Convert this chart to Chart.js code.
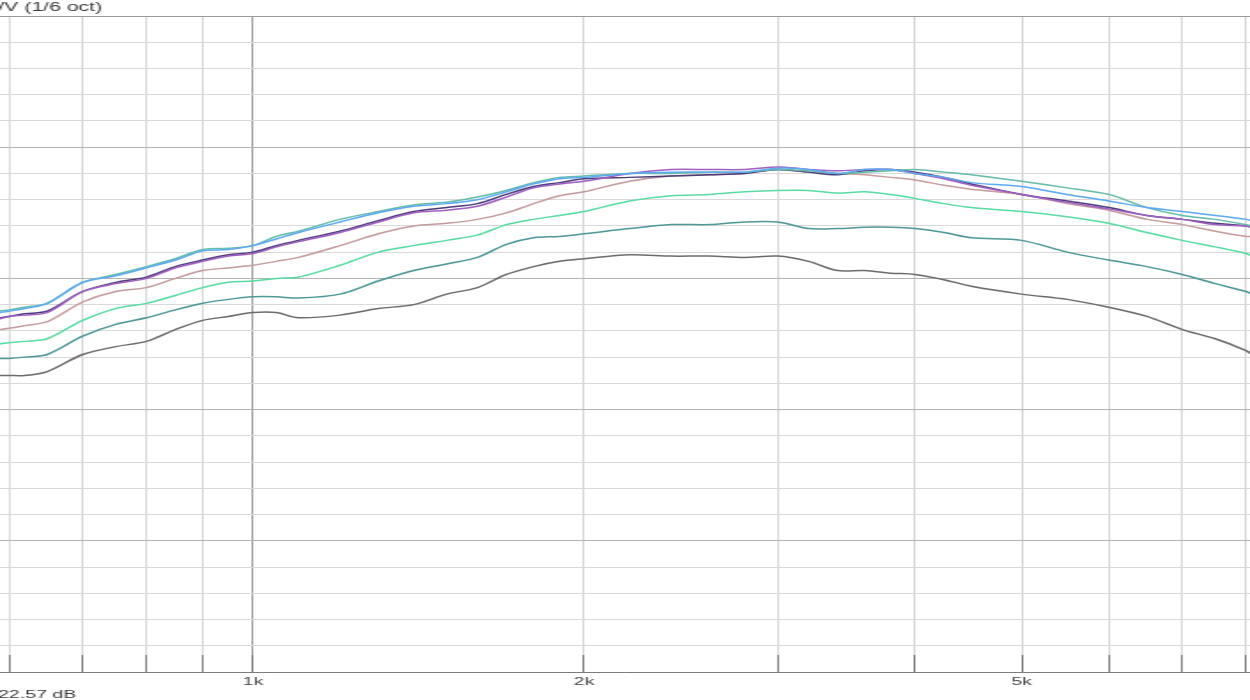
<!DOCTYPE html>
<html>
<head>
<meta charset="utf-8">
<script src="https://cdn.jsdelivr.net/npm/chart.js@4/dist/chart.umd.min.js"></script>
<style>
  html, body { margin: 0; padding: 0; background: #fff; overflow: hidden; }
  /* the source picture is a horizontally stretched screenshot, so the canvas is too */
  #wrap { width: 706px; height: 700px; transform: scaleX(1.7705); transform-origin: 0 0; }
</style>
</head>
<body>
<div id="wrap"><canvas id="fr" width="706" height="700"></canvas></div>
<script>
// frequency points (Hz) shared by every trace
const freqs = [588, 600, 620, 650, 700, 750, 800, 850, 900, 950, 1000, 1050, 1100, 1200, 1300, 1400, 1500, 1600, 1700, 1800, 1900,
  2000, 2200, 2400, 2600, 2800, 3000, 3200, 3400, 3600, 3800, 4000, 4250, 4500, 5000, 5500, 6000, 6500, 7000, 7500, 8000, 8100];

// levels in dB
const blueTrace = [67.4, 67.5, 67.7, 68.1, 69.7, 70.2, 70.8, 71.4, 72.1, 72.2, 72.5, 73.0, 73.5, 74.3, 75.0, 75.5, 75.7, 76.0, 76.6, 77.2, 77.6,
  77.7, 78.0, 78.1, 78.1, 78.1, 78.4, 78.3, 78.0, 78.3, 78.3, 78.0, 77.7, 77.3, 77.0, 76.4, 75.9, 75.4, 75.1, 74.8, 74.5, 74.4];
const tealTrace = [67.5, 67.6, 67.8, 68.1, 69.7, 70.3, 70.9, 71.5, 72.2, 72.3, 72.5, 73.2, 73.6, 74.5, 75.1, 75.6, 75.8, 76.2, 76.7, 77.3, 77.7,
  77.8, 78.0, 78.0, 78.1, 78.1, 78.3, 78.2, 78.0, 78.1, 78.2, 78.3, 78.1, 77.9, 77.4, 76.9, 76.4, 75.4, 74.8, 74.5, 74.1, 74.0];
const purpleTrace = [66.9, 67.1, 67.2, 67.4, 69.0, 69.6, 70.0, 70.8, 71.3, 71.7, 71.9, 72.4, 72.8, 73.5, 74.3, 75.0, 75.2, 75.5, 76.2, 76.9, 77.2,
  77.4, 78.0, 78.3, 78.3, 78.3, 78.5, 78.3, 78.2, 78.3, 78.3, 78.0, 77.6, 77.1, 76.4, 75.8, 75.3, 74.8, 74.5, 74.1, 74.0, 73.9];
const darkTrace = [67.0, 67.1, 67.3, 67.5, 69.0, 69.7, 70.1, 70.9, 71.4, 71.8, 72.0, 72.5, 72.9, 73.6, 74.4, 75.1, 75.4, 75.7, 76.4, 77.0, 77.3,
  77.6, 77.7, 77.8, 77.9, 78.0, 78.3, 78.1, 77.9, 78.2, 78.3, 78.1, 77.7, 77.2, 76.4, 75.9, 75.4, 74.8, 74.5, 74.2, 74.0, 73.9];
const pinkTrace = [66.1, 66.2, 66.4, 66.7, 68.2, 69.0, 69.3, 70.0, 70.6, 70.8, 71.0, 71.3, 71.6, 72.5, 73.4, 74.0, 74.2, 74.5, 75.0, 75.7, 76.3,
  76.6, 77.4, 77.8, 77.9, 78.0, 78.3, 78.1, 78.0, 77.9, 77.7, 77.5, 77.1, 76.8, 76.4, 75.7, 75.2, 74.5, 74.1, 73.6, 73.2, 73.2];
const mintTrace = [65.0, 65.1, 65.2, 65.4, 66.8, 67.7, 68.1, 68.7, 69.3, 69.7, 69.8, 70.0, 70.1, 71.0, 72.0, 72.5, 72.9, 73.3, 74.1, 74.5, 74.8,
  75.1, 75.9, 76.3, 76.4, 76.6, 76.7, 76.7, 76.5, 76.6, 76.4, 76.1, 75.7, 75.4, 75.1, 74.7, 74.2, 73.5, 72.9, 72.4, 71.9, 71.7];
const slateTrace = [63.9, 63.9, 64.0, 64.2, 65.6, 66.5, 67.0, 67.6, 68.1, 68.4, 68.6, 68.6, 68.5, 68.8, 69.8, 70.6, 71.1, 71.6, 72.6, 73.1, 73.2,
  73.4, 73.8, 74.1, 74.1, 74.3, 74.3, 73.8, 73.8, 73.9, 73.9, 73.8, 73.5, 73.1, 72.9, 72.0, 71.4, 70.9, 70.3, 69.6, 69.0, 68.8];
const grayTrace = [62.6, 62.6, 62.6, 62.9, 64.2, 64.8, 65.2, 66.1, 66.8, 67.1, 67.4, 67.4, 67.0, 67.2, 67.7, 68.0, 68.8, 69.3, 70.3, 70.9, 71.3,
  71.5, 71.8, 71.7, 71.7, 71.6, 71.7, 71.3, 70.6, 70.6, 70.4, 70.3, 69.9, 69.4, 68.8, 68.4, 67.8, 67.1, 66.1, 65.4, 64.5, 64.2];

const gridFreqs = [600, 700, 800, 900, 1000, 2000, 3000, 4000, 5000, 6000, 7000, 8000];
const tickLabels = {1000: '1k', 2000: '2k', 5000: '5k'};
const yAxisLabel = '/V (1/6 oct)';
const cursorText = '22.57 dB';

const traces = [
  {data: blueTrace, color: '#5eaaf2'},
  {data: tealTrace, color: '#64bca9'},
  {data: purpleTrace, color: '#a25fc2'},
  {data: darkTrace, color: '#4b3d78'},
  {data: pinkTrace, color: '#c59ca0'},
  {data: mintTrace, color: '#58dca2'},
  {data: slateTrace, color: '#4f9898'},
  {data: grayTrace, color: '#6c6c6c'},
];

const FONT = '"Liberation Sans", Arial, sans-serif';

// top-left axis caption and cursor readout
const captions = {
  id: 'captions',
  afterDraw(chart) {
    const ctx = chart.ctx;
    ctx.save();
    ctx.fillStyle = '#3a3a3a';
    ctx.textBaseline = 'middle';
    ctx.font = '12px ' + FONT;
    ctx.fillText(yAxisLabel, -1, 8);
    ctx.font = '11px ' + FONT;
    ctx.fillText(cursorText, -1, 695);
    ctx.restore();
  }
};

new Chart(document.getElementById('fr'), {
  type: 'line',
  data: {
    datasets: traces.map(t => ({
      data: freqs.map((f, i) => ({x: f, y: t.data[i]})),
      borderColor: t.color,
      borderWidth: 1.5,
      pointRadius: 0,
      tension: 0.3,
      fill: false
    }))
  },
  options: {
    responsive: false,
    animation: false,
    devicePixelRatio: 1,
    layout: {padding: {top: 16, left: 0, right: 0, bottom: 0}},
    plugins: {legend: {display: false}, tooltip: {enabled: false}},
    scales: {
      x: {
        type: 'logarithmic',
        min: 588.8,
        max: 8066,
        afterBuildTicks: s => { s.ticks = gridFreqs.map(v => ({value: v})); },
        afterFit: s => {
          s.height = 28;
          // plot runs edge to edge, no room kept for end labels
          s.paddingLeft = 0;
          s.paddingRight = 0;
        },
        ticks: {
          autoSkip: false,
          maxRotation: 0,
          padding: 20,
          color: '#444',
          font: {size: 11, family: FONT},
          callback: v => tickLabels[v] || ''
        },
        grid: {
          color: c => (c.tick && c.tick.value === 1000) ? '#a2a2a2' : '#d6d6d6',
          tickLength: -17,
          tickColor: '#7c7c7c'
        },
        border: {color: '#7c7c7c', width: 1}
      },
      y: {
        min: 40,
        max: 90,
        ticks: {display: false, stepSize: 2},
        grid: {
          drawTicks: false,
          color: c => {
            const v = c.tick ? c.tick.value : 0;
            if (v === 90) return '#9a9a9a';
            return v % 10 === 0 ? '#b4b4b4' : '#d9d9d9';
          }
        },
        border: {display: false}
      }
    }
  },
  plugins: [captions]
});
</script>
</body>
</html>
